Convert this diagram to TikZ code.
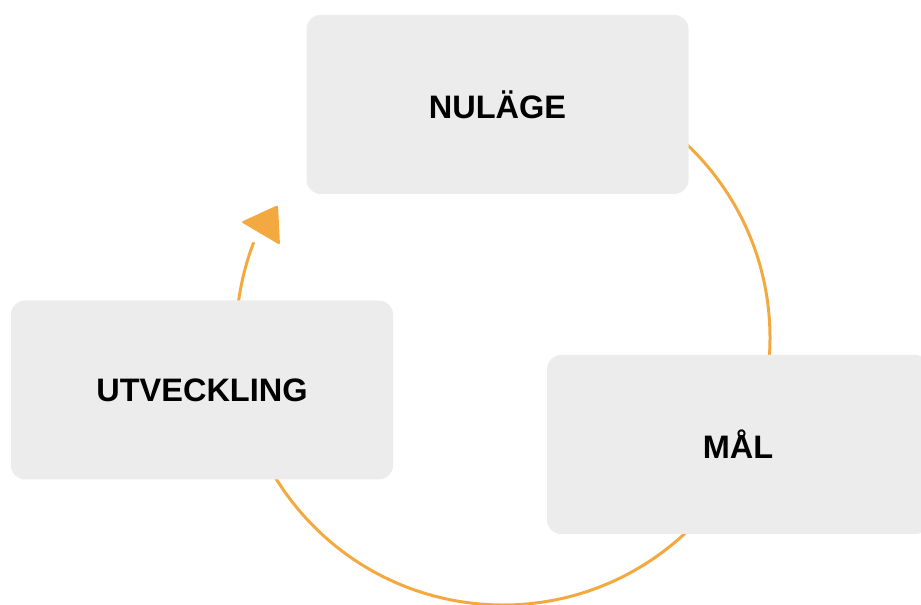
\documentclass[tikz,border=0pt]{standalone}
\usepackage{fontspec}
\setmainfont{Liberation Sans}
\definecolor{ringorange}{HTML}{F4A940}
\definecolor{boxgray}{HTML}{ECECEC}
\begin{document}
\begin{tikzpicture}[x=1pt,y=1pt,
  stage/.style={fill=boxgray, draw=none, rounded corners=14pt,
    minimum width=382pt, minimum height=179pt, inner sep=0pt,
    font=\fontsize{32.5}{39}\selectfont\bfseries, text=black},
  ring/.style={draw=ringorange, line width=3pt}]
\useasboundingbox (0,0) rectangle (921,605);
\clip (0,0) rectangle (921,605);
\coordinate (c) at (503,267);
\draw[ring] ([shift={(130:267)}]c) arc[start angle=130, end angle=-201, radius=267];
\coordinate (t1) at (241,383);
\coordinate (t2) at (278,400);
\coordinate (t3) at (280,360);
\fill[ringorange, rounded corners=2pt] (t1) -- (t2) -- (t3) -- cycle;
\node[stage] (nulage) at (497.5,500.5) {NULÄGE};
\node[stage] (utv) at (202,215) {UTVECKLING};
\node[stage] (mal) at (738,160.5) {MÅL};
\end{tikzpicture}
\end{document}
